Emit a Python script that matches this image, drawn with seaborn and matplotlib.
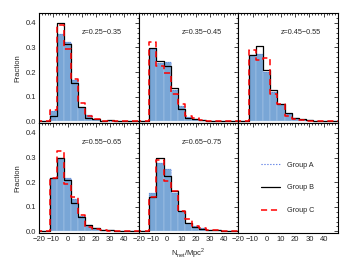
import numpy as np
import pandas as pd
import seaborn as sns
import matplotlib.pyplot as plt
from matplotlib.lines import Line2D
from matplotlib.ticker import MultipleLocator, FixedLocator, FormatStrFormatter

## Bin edges of N_net (width 5), and the bin centres used as histogram data
edges = list(np.arange(-22.5, 57.5, 5.0))
centers = [e + 2.5 for e in edges[:-1]]
x_ticks = [-20, -10, 0, 10, 20, 30, 40]

z_labels = ["z=0.25\u22120.35", "z=0.35\u22120.45", "z=0.45\u22120.55",
            "z=0.55\u22120.65", "z=0.65\u22120.75"]

# fractions per bin, bins: -20,-15,-10,-5,0,5,10,15,20,25,30,35,40,45,50
group_a = [
    [0, 0, 0.040, 0.355, 0.322, 0.167, 0.059, 0.024, 0.008, 0.003, 0.002, 0.001, 0.001, 0, 0],
    [0, 0, 0.294, 0.235, 0.241, 0.129, 0.062, 0.019, 0.010, 0.005, 0.003, 0.001, 0.001, 0, 0],
    [0, 0, 0.271, 0.275, 0.200, 0.120, 0.069, 0.030, 0.012, 0.007, 0.004, 0.002, 0.001, 0, 0],
    [0, 0, 0.215, 0.296, 0.215, 0.130, 0.063, 0.027, 0.012, 0.006, 0.004, 0.003, 0.002, 0.001, 0],
    [0, 0, 0.154, 0.279, 0.252, 0.154, 0.084, 0.036, 0.023, 0.012, 0.006, 0.004, 0.003, 0.002, 0.001],
]
group_b = [
    [0, 0, 0.022, 0.400, 0.312, 0.154, 0.059, 0.015, 0.011, 0.003, 0.004, 0.001, 0.001, 0, 0],
    [0, 0, 0.298, 0.244, 0.223, 0.136, 0.051, 0.015, 0.008, 0.005, 0.003, 0.001, 0.001, 0, 0],
    [0, 0, 0.271, 0.305, 0.207, 0.127, 0.069, 0.035, 0.015, 0.008, 0.005, 0.003, 0.001, 0, 0],
    [0, 0, 0.218, 0.298, 0.210, 0.117, 0.060, 0.027, 0.015, 0.006, 0.004, 0.003, 0.002, 0.001, 0],
    [0, 0, 0.140, 0.299, 0.225, 0.162, 0.084, 0.036, 0.016, 0.010, 0.006, 0.004, 0.003, 0.002, 0.001],
]
group_c = [
    [0, 0, 0.045, 0.390, 0.294, 0.170, 0.075, 0.020, 0.008, 0.003, 0.002, 0.001, 0.001, 0, 0],
    [0, 0, 0.322, 0.223, 0.197, 0.109, 0.069, 0.022, 0.012, 0.005, 0.003, 0.001, 0.001, 0, 0],
    [0, 0, 0.291, 0.247, 0.256, 0.110, 0.069, 0.021, 0.010, 0.006, 0.003, 0.002, 0.001, 0, 0],
    [0, 0, 0.218, 0.326, 0.191, 0.140, 0.068, 0.016, 0.008, 0.005, 0.003, 0.002, 0.001, 0.001, 0],
    [0, 0, 0.140, 0.288, 0.205, 0.162, 0.084, 0.050, 0.020, 0.012, 0.006, 0.004, 0.003, 0.002, 0.001],
]

sns.set_style("white")
plt.rcParams['font.family'] = ['Liberation Sans', 'DejaVu Sans']
plt.rcParams['mathtext.fontset'] = 'custom'
plt.rcParams['mathtext.rm'] = 'Liberation Sans'
plt.rcParams['font.size'] = 5.5

fill_col = '#79a6d6'
fig, axes = plt.subplots(2, 3, figsize=(3.52, 2.59), dpi=100, sharex=True, sharey=True)
fig.subplots_adjust(left=0.111, right=0.96, top=0.95, bottom=0.10, wspace=0, hspace=0)

for i, ax in enumerate(axes.flat):
    if i < 5:
        df = pd.DataFrame({'n': centers, 'a': group_a[i], 'b': group_b[i], 'c': group_c[i]})
        sns.histplot(data=df, x='n', weights='a', bins=edges, element='bars',
                     color=fill_col, alpha=1.0, edgecolor='#b5cdea', linewidth=0.3, ax=ax)
        sns.histplot(data=df, x='n', weights='a', bins=edges, element='step', fill=False,
                     color='royalblue', linestyle=':', linewidth=0.5, ax=ax)
        sns.histplot(data=df, x='n', weights='b', bins=edges, element='step', fill=False,
                     color='black', linewidth=0.9, ax=ax)
        sns.histplot(data=df, x='n', weights='c', bins=edges, element='step', fill=False,
                     color='red', linestyle=(0, (4, 2.5)), linewidth=1.1, ax=ax)
        ax.text(0.43, 0.82, z_labels[i], transform=ax.transAxes, fontsize=5.2,
                ha='left', va='center')
    ax.set_xlim(-20, 50)
    ax.set_ylim(-0.007, 0.44)
    ax.xaxis.set_major_locator(FixedLocator(x_ticks))
    ax.xaxis.set_minor_locator(MultipleLocator(2))
    ax.yaxis.set_major_locator(MultipleLocator(0.1))
    ax.yaxis.set_minor_locator(MultipleLocator(0.02))
    ax.yaxis.set_major_formatter(FormatStrFormatter('%.1f'))
    ax.tick_params(which='both', direction='in', top=True, right=True, width=0.6,
                   labelsize=5.5, pad=2)
    ax.tick_params(which='major', length=3)
    ax.tick_params(which='minor', length=1.5)
    for s in ax.spines.values():
        s.set_linewidth(0.8)
        s.set_color('black')
    ax.set_xlabel('')
    ax.set_ylabel('')

for ax in axes[:, 0]:
    ax.set_ylabel('Fraction', fontsize=5.5, labelpad=3)
axes[1, 2].xaxis.set_tick_params(labelbottom=True)
axes[1, 1].set_xlabel(r'N$_{\rm net}$/Mpc$^2$', fontsize=5.5, labelpad=2)

handles = [Line2D([], [], color='royalblue', linestyle=':', lw=0.8),
           Line2D([], [], color='black', lw=0.9),
           Line2D([], [], color='red', linestyle=(0, (4, 2.5)), lw=1.1)]
axes[1, 2].legend(handles, ['Group A', 'Group B', 'Group C'], loc='center',
                  bbox_to_anchor=(0.5, 0.41), frameon=False, fontsize=5.2,
                  handlelength=2.6, labelspacing=2.2, handletextpad=1.0)

plt.savefig('out.png', dpi=100)
